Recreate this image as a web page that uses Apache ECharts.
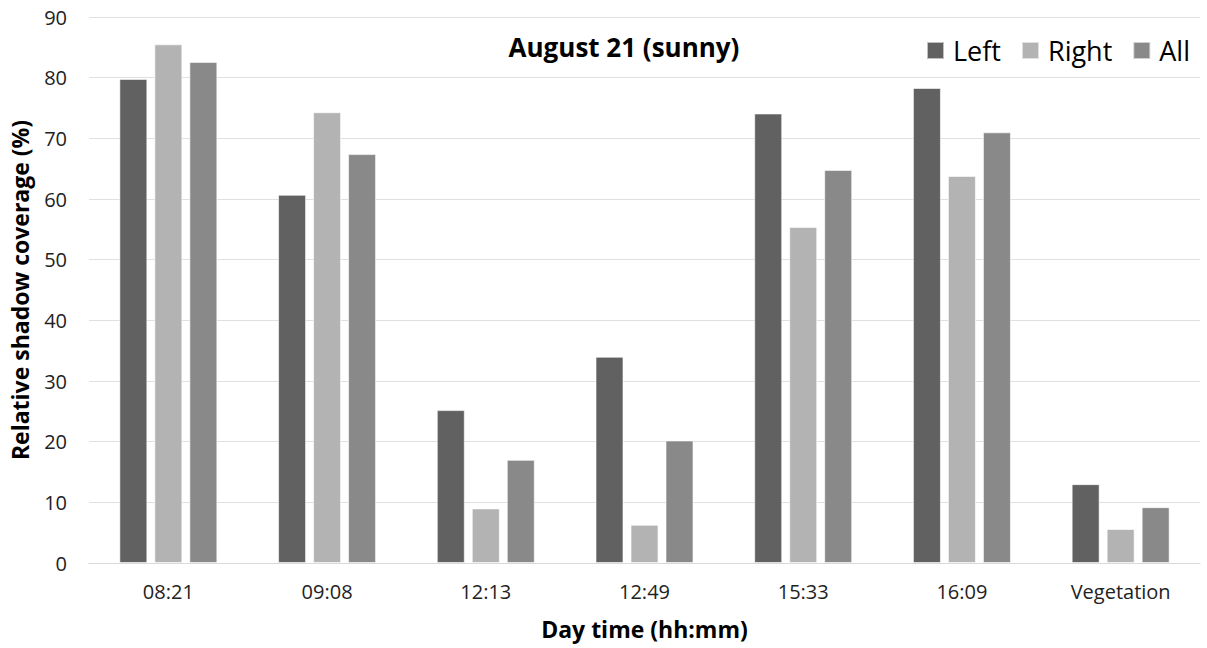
<!DOCTYPE html>
<html lang="en">
<head>
    <meta charset="UTF-8">
    <title>August 21 (sunny)</title>
</head>
<body style="margin: 0">
<div id="container" style="height: 648px; width: 1207px;"></div>
<script type="text/javascript" src="https://cdn.jsdelivr.net/npm/echarts@6/dist/echarts.min.js"></script>
<script type="text/javascript">
    const categories = ['08:21', '09:08', '12:13', '12:49', '15:33', '16:09', 'Vegetation'];
    const leftValues = [79.8, 60.7, 25.2, 34.0, 74.1, 78.3, 13.0];
    const rightValues = [85.5, 74.3, 9.0, 6.3, 55.4, 63.8, 5.6];
    const allValues = [82.6, 67.4, 17.0, 20.2, 64.8, 71.0, 9.2];
    const yTicks = [0, 10, 20, 30, 40, 50, 60, 70, 80, 90];

    const font = '"Open Sans", sans-serif';
    const myChart = echarts.init(document.getElementById('container'), null, {renderer: 'svg'});

    const barStyle = {borderColor: 'rgba(255,255,255,0.6)', borderWidth: 1};

    const option = {
        animation: false,
        textStyle: {fontFamily: font},
        title: {
            text: 'August 21 (sunny)',
            left: 619,
            top: 29,
            textAlign: 'center',
            textStyle: {fontSize: 26, fontWeight: 'bold', color: '#000', fontFamily: font}
        },
        legend: {
            right: 12,
            top: 32,
            itemWidth: 17,
            itemHeight: 17,
            itemGap: 20,
            icon: 'rect',
            textStyle: {fontSize: 27, color: '#000', fontFamily: font, padding: [0, 0, 0, 4]}
        },
        grid: {left: 89, right: 7, top: 17, bottom: 85},
        xAxis: {
            type: 'category',
            data: categories,
            name: 'Day time (hh:mm)',
            nameLocation: 'middle',
            nameGap: 54,
            nameTextStyle: {fontSize: 23, fontWeight: 'bold', color: '#000', fontFamily: font},
            axisLine: {lineStyle: {color: '#d9d9d9'}},
            axisTick: {show: false},
            axisLabel: {fontSize: 20, color: '#222', margin: 18, fontFamily: font}
        },
        yAxis: {
            type: 'value',
            min: yTicks[0],
            max: yTicks[yTicks.length - 1],
            interval: 10,
            name: 'Relative shadow coverage (%)',
            nameLocation: 'middle',
            nameGap: 58,
            nameTextStyle: {fontSize: 23, fontWeight: 'bold', color: '#000', fontFamily: font},
            axisLine: {show: false},
            axisTick: {show: false},
            splitLine: {lineStyle: {color: '#e0e0e0'}},
            axisLabel: {fontSize: 20, color: '#222', margin: 22, fontFamily: font}
        },
        series: [
            {name: 'Left', type: 'bar', data: leftValues, barWidth: 28, barGap: '25%', itemStyle: Object.assign({color: '#616161'}, barStyle)},
            {name: 'Right', type: 'bar', data: rightValues, barWidth: 28, barGap: '25%', itemStyle: Object.assign({color: '#b3b3b3'}, barStyle)},
            {name: 'All', type: 'bar', data: allValues, barWidth: 28, barGap: '25%', itemStyle: Object.assign({color: '#898989'}, barStyle)}
        ]
    };
    myChart.setOption(option);
</script>
</body>
</html>
